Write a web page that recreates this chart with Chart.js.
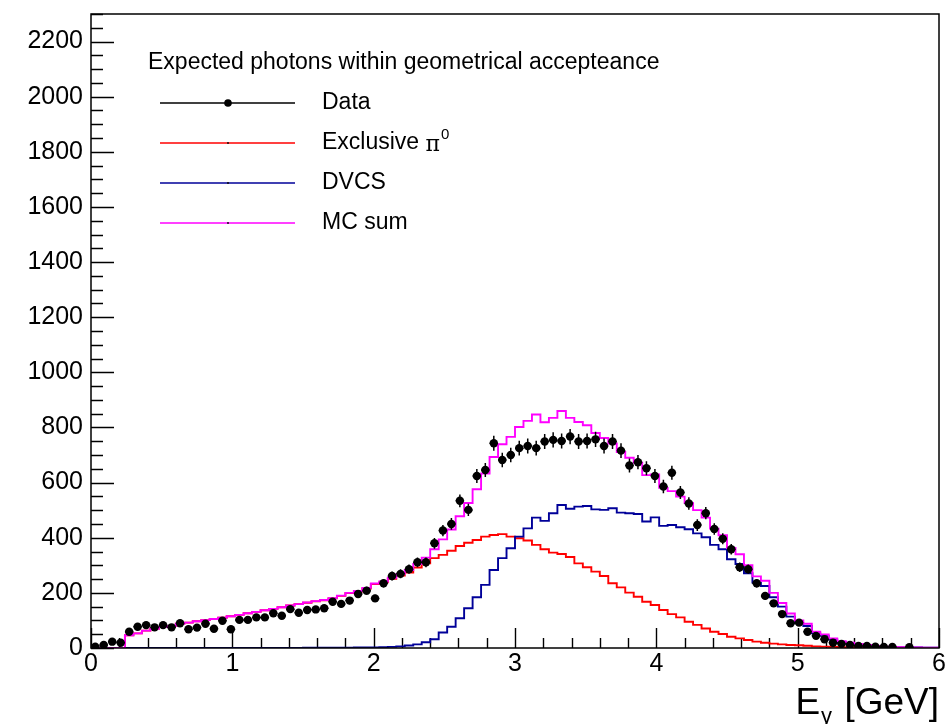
<!DOCTYPE html>
<html lang="en">
  <head>
    <meta charset="UTF-8" />
    <title>Expected photons within geometrical acceptance</title>
    <style>
      body {
        margin: 0;
        background-color: #fff;
      }
      #chartContainer {
        width: 946px;
        height: 724px;
      }
    </style>
  </head>
  <body>
    <div id="chartContainer">
      <canvas id="myChart" width="946" height="724"></canvas>
    </div>
    <script src="https://cdn.jsdelivr.net/npm/chart.js"></script>
    <script>
      // histogram binning: 100 bins of E_gamma between 0 and 6 GeV
      const binLow = 0;
      const binHigh = 6;
      const nBins = 100;

      // measured counts per bin (null = empty bin, no point drawn)
      const dataCounts = [
        5, 11, 23, 19, 59, 77, 83, 75, 83, 75,
        90, 68, 74, 88, 70, 99, 68, 102, 102, 111,
        111, 126, 117, 141, 128, 138, 140, 144, 168, 160,
        172, 196, 208, 180, 235, 261, 269, 286, 311, 311,
        380, 426, 450, 534, 501, 624, 646, 743, 682, 700,
        725, 733, 725, 749, 755, 751, 767, 749, 751, 757,
        733, 749, 716, 662, 674, 652, 624, 586, 636, 564,
        524, 446, 489, 432, 396, 358, 293, 286, 235, 189,
        162, 123, 90, 92, 59, 44, 32, 19, 15, 11,
        7, 7, 5, 4, 4, null, 3, null, null, null,
      ];

      // exclusive pi0 simulation
      const pi0Counts = [
        0, 0, 0, 0, 46, 53, 63, 70, 76, 80,
        88, 92, 97, 101, 105, 110, 115, 120, 126, 131,
        137, 142, 148, 154, 159, 164, 169, 173, 180, 189,
        199, 205, 216, 232, 238, 251, 263, 274, 292, 307,
        326, 338, 353, 370, 382, 392, 404, 410, 413, 404,
        398, 390, 374, 358, 346, 341, 330, 307, 293, 277,
        261, 235, 220, 201, 186, 168, 156, 138, 123, 111,
        95, 84, 71, 59, 51, 41, 35, 29, 23, 19,
        16, 13, 11, 10, 8, 6, 5, 4, 3, 3,
        2, 2, 1, 1, 1, 1, 0, 0, 0, 0,
      ];

      // DVCS simulation
      const dvcsCounts = [
        0, 0, 0, 0, 0, 0, 0, 0, 0, 0,
        0, 0, 0, 0, 0, 0, 0, 0, 0, 0,
        0, 0, 0, 0, 0, 1, 1, 1, 1, 1,
        1, 2, 2, 2, 3, 4, 6, 9, 13, 21,
        32, 56, 77, 108, 144, 184, 229, 283, 326, 362,
        404, 434, 473, 461, 489, 519, 505, 513, 515, 503,
        501, 507, 491, 489, 486, 459, 474, 443, 446, 438,
        431, 416, 402, 374, 358, 322, 305, 271, 237, 225,
        184, 150, 114, 90, 80, 53, 44, 31, 22, 16,
        13, 9, 6, 4, 3, 2, 2, 2, 1, 1,
      ];

      // sum of the two simulated contributions
      const mcSumCounts = [
        0, 0, 0, 0, 46, 53, 63, 70, 76, 80,
        88, 92, 97, 101, 105, 110, 115, 120, 126, 131,
        137, 142, 148, 154, 159, 165, 170, 174, 181, 190,
        200, 207, 218, 234, 241, 255, 269, 283, 305, 328,
        358, 394, 430, 478, 526, 576, 633, 693, 739, 766,
        802, 824, 847, 819, 835, 860, 835, 820, 808, 780,
        762, 742, 711, 690, 672, 627, 630, 581, 569, 549,
        526, 500, 473, 433, 409, 363, 340, 300, 260, 244,
        200, 163, 125, 100, 88, 59, 49, 35, 25, 19,
        15, 11, 7, 5, 4, 3, 2, 2, 1, 1,
      ];

      const xTicks = [0, 1, 2, 3, 4, 5, 6];
      const yTicks = [0, 200, 400, 600, 800, 1000, 1200, 1400, 1600, 1800, 2000, 2200];

      const legendHeader = "Expected photons within geometrical accepteance";
      const legendEntries = [
        { label: "Data", color: "#000000", marker: true },
        { label: "Exclusive ", greek: "\u03c0", sup: "0", color: "#ff0000" },
        { label: "DVCS", color: "#000099" },
        { label: "MC sum", color: "#ff00ff" },
      ];

      const FONT = '"Liberation Sans", Arial, Helvetica, sans-serif';
      const binWidth = (binHigh - binLow) / nBins;

      // bin contents -> points on the bin low edges, closed at the upper edge
      function stepPoints(counts) {
        const pts = counts.map((v, i) => ({ x: binLow + i * binWidth, y: v }));
        pts.push({ x: binHigh, y: counts[counts.length - 1] });
        return pts;
      }

      const dataPoints = [];
      dataCounts.forEach((v, i) => {
        if (v !== null) dataPoints.push({ x: binLow + (i + 0.5) * binWidth, y: v });
      });

      function histDataset(label, counts, color) {
        return {
          label: label,
          data: stepPoints(counts),
          showLine: true,
          // hold each bin value until the next bin edge
          stepped: "before",
          borderColor: color,
          borderWidth: 1.9,
          pointRadius: 0,
          fill: false,
        };
      }

      function noPadding(s) {
        s.paddingTop = 0;
        s.paddingBottom = 0;
        s.paddingLeft = 0;
        s.paddingRight = 0;
      }

      // ROOT-like frame, inward ticks, error bars, legend and axis title
      const rootStyle = {
        id: "rootStyle",
        beforeDatasetsDraw(chart) {
          const { ctx, chartArea: a, scales } = chart;
          ctx.save();
          ctx.strokeStyle = "#000";
          ctx.lineWidth = 1.4;
          ctx.beginPath();
          for (let v = 0; v <= 2300 + 1e-6; v += 50) {
            const y = Math.round(scales.y.getPixelForValue(v)) + 0.5;
            const len = v % 200 === 0 ? 23 : 12;
            ctx.moveTo(a.left, y);
            ctx.lineTo(a.left + len, y);
          }
          for (let k = 0; k <= 30; k++) {
            const v = k * 0.2;
            const x = Math.round(scales.x.getPixelForValue(v)) + 0.5;
            const len = k % 5 === 0 ? 20 : 10;
            ctx.moveTo(x, a.bottom);
            ctx.lineTo(x, a.bottom - len);
          }
          ctx.stroke();
          ctx.restore();
        },
        beforeDatasetDraw(chart, args) {
          if (args.index !== 0) return;
          const { ctx, scales } = chart;
          const half = (scales.x.getPixelForValue(binWidth) - scales.x.getPixelForValue(0)) / 2;
          ctx.save();
          ctx.strokeStyle = "#000";
          ctx.lineWidth = 1.5;
          ctx.beginPath();
          dataPoints.forEach((p) => {
            const x = scales.x.getPixelForValue(p.x);
            const y = scales.y.getPixelForValue(p.y);
            const err = Math.sqrt(p.y);
            ctx.moveTo(x, scales.y.getPixelForValue(p.y - err));
            ctx.lineTo(x, scales.y.getPixelForValue(p.y + err));
            ctx.moveTo(x - half, y);
            ctx.lineTo(x + half, y);
          });
          ctx.stroke();
          ctx.restore();
        },
        afterDraw(chart) {
          const { ctx, chartArea: a } = chart;
          ctx.save();
          // frame
          ctx.strokeStyle = "#000";
          ctx.lineWidth = 1.5;
          ctx.strokeRect(a.left, a.top, a.right - a.left, a.bottom - a.top);

          // legend
          ctx.fillStyle = "#000";
          ctx.textBaseline = "middle";
          ctx.textAlign = "left";
          ctx.font = "23px " + FONT;
          ctx.fillText(legendHeader, 148, 63);
          legendEntries.forEach((e, i) => {
            const y = 103 + i * 40;
            ctx.strokeStyle = e.color;
            ctx.lineWidth = 1.5;
            ctx.beginPath();
            ctx.moveTo(160, y);
            ctx.lineTo(295, y);
            ctx.stroke();
            ctx.fillStyle = "#000";
            ctx.beginPath();
            ctx.arc(228, y, e.marker ? 3.8 : 0.9, 0, Math.PI * 2);
            ctx.fill();
            ctx.font = "23px " + FONT;
            ctx.fillText(e.label, 322, y);
            if (e.greek) {
              let x = 322 + ctx.measureText(e.label).width;
              ctx.font = "22px 'DejaVu Serif', 'Liberation Serif', serif";
              ctx.fillText(e.greek, x, y + 2);
              x += ctx.measureText(e.greek).width + 1;
              ctx.font = "15px " + FONT;
              ctx.fillText(e.sup, x, y - 8);
            }
          });

          // x axis title, right aligned with the frame
          ctx.textBaseline = "alphabetic";
          ctx.font = "37px " + FONT;
          const tail = " [GeV]";
          const tailW = ctx.measureText(tail).width;
          let x = a.right - tailW;
          ctx.fillText(tail, x, 714);
          ctx.font = "22px " + FONT;
          const gW = ctx.measureText("\u03b3").width;
          x -= gW + 2;
          ctx.fillText("\u03b3", x, 723);
          ctx.font = "37px " + FONT;
          const eW = ctx.measureText("E").width;
          ctx.fillText("E", x - eW - 1, 714);
          ctx.restore();
        },
      };

      new Chart(document.getElementById("myChart").getContext("2d"), {
        type: "scatter",
        data: {
          datasets: [
            {
              label: "Data",
              data: dataPoints,
              showLine: false,
              pointRadius: 4.2,
              pointBackgroundColor: "#000",
              pointBorderColor: "#000",
              pointBorderWidth: 0,
            },
            histDataset("MC sum", mcSumCounts, "#ff00ff"),
            histDataset("DVCS", dvcsCounts, "#000099"),
            histDataset("Exclusive pi0", pi0Counts, "#ff0000"),
          ],
        },
        options: {
          responsive: false,
          animation: false,
          events: [],
          layout: { padding: { left: 0, right: 7, top: 14, bottom: 0 } },
          plugins: {
            legend: { display: false },
            tooltip: { enabled: false },
          },
          scales: {
            x: {
              type: "linear",
              min: binLow,
              max: binHigh,
              grid: { display: false },
              border: { display: false },
              afterBuildTicks: (s) => {
                s.ticks = xTicks.map((v) => ({ value: v }));
              },
              afterFit: (s) => {
                s.height = 76;
                noPadding(s);
              },
              ticks: {
                color: "#000",
                font: { family: FONT, size: 25, lineHeight: 1 },
                padding: -4,
                maxRotation: 0,
                autoSkip: false,
                callback: (v) => String(v),
              },
            },
            y: {
              type: "linear",
              min: 0,
              max: 2300,
              grid: { display: false },
              border: { display: false },
              afterBuildTicks: (s) => {
                s.ticks = yTicks.map((v) => ({ value: v }));
              },
              afterFit: (s) => {
                s.width = 91;
                noPadding(s);
              },
              ticks: {
                color: "#000",
                font: { family: FONT, size: 25 },
                padding: 0,
                callback: (v) => String(v),
              },
            },
          },
        },
        plugins: [rootStyle],
      });
    </script>
  </body>
</html>
